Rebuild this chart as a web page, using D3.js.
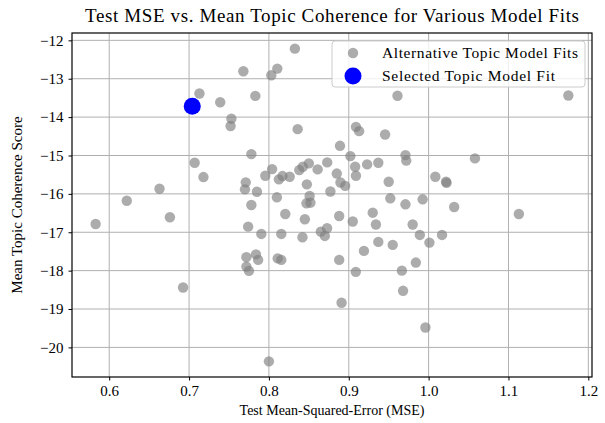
<!DOCTYPE html>
<html>
<head>
<meta charset="utf-8">
<script src="https://cdn.jsdelivr.net/npm/d3@7"></script>
<style>
    body { margin: 0; background: #fff; }
    svg text { font-family: 'Liberation Serif', 'Times New Roman', serif; fill: #000; }
</style>
</head>
<body>
<div class="chart"></div>
<script>
// alternative fits: test MSE and mean coherence
const altMse = [
    0.713, 0.739, 0.753, 0.752, 0.707, 0.718, 0.663, 0.622, 0.583, 0.676,
    0.6925, 0.768, 0.8325, 0.8105, 0.803, 0.783, 0.836, 0.909, 0.913, 0.9455,
    0.961, 1.175, 0.778, 0.804, 0.7955, 0.8125, 0.817, 0.826, 0.838, 0.8425,
    0.85, 0.861, 0.873, 0.8475, 0.771, 0.77, 0.785, 0.81, 0.851, 0.847,
    0.852, 0.778, 0.8205, 0.845, 0.877, 0.889, 0.902, 0.971, 0.972, 0.908,
    0.923, 0.937, 0.885, 0.909, 0.8896, 0.8955, 0.95, 0.952, 0.971, 0.9925,
    0.93, 0.888, 0.905, 0.934, 0.98, 0.774, 0.7905, 0.8155, 0.842, 0.865,
    0.8728, 0.87, 0.7718, 0.7838, 0.7865, 0.811, 0.8155, 0.7718, 0.775, 0.989,
    0.937, 0.955, 0.919, 0.888, 0.9088, 0.9665, 0.984, 0.968, 0.891, 0.8,
    1.058, 1.0084, 1.0218, 1.0225, 1.032, 1.113, 1.0168, 1.001, 0.996
];
const altCoherence = [
    -13.386, -13.612, -14.041, -14.231, -15.19, -15.562, -15.866, -16.178, -16.784, -16.61,
    -18.44, -12.806, -12.216, -12.736, -12.91, -13.448, -14.314, -14.254, -14.366, -14.452,
    -13.443, -13.438, -14.964, -15.354, -15.528, -15.622, -15.536, -15.554, -15.38, -15.294,
    -15.206, -15.362, -15.18, -15.752, -15.7, -15.882, -15.944, -16.09, -16.056, -16.246,
    -16.23, -16.29, -16.524, -16.662, -15.939, -14.748, -15.016, -14.99, -15.133, -15.294,
    -15.232, -15.19, -15.471, -15.528, -15.705, -15.791, -15.684, -16.116, -16.272, -16.142,
    -16.49, -16.576, -16.719, -16.797, -16.797, -16.854, -17.044, -17.044, -17.13, -16.984,
    -16.896, -17.096, -17.65, -17.577, -17.72, -17.681, -17.72, -17.895, -18.006, -17.07,
    -17.252, -17.33, -17.486, -17.72, -18.032, -18.001, -17.79, -18.526, -18.838, -20.364,
    -15.076, -15.554, -15.684, -15.713, -16.342, -16.524, -17.07, -17.27, -19.481
];

// the chosen fit
const selMse = [0.704];
const selCoherence = [-13.716];

const xTicks = [0.6, 0.7, 0.8, 0.9, 1.0, 1.1, 1.2];
const yTicks = [-12, -13, -14, -15, -16, -17, -18, -19, -20];

const legendLabels = ['Alternative Topic Model Fits', 'Selected Topic Model Fit'];

const svgWidth = 605;
const svgHeight = 423;
const margin = { top: 33, right: 13, bottom: 46, left: 72 };

const altData = altMse.map((d, i) => ({ mse: d, coh: altCoherence[i] }));
const selData = selMse.map((d, i) => ({ mse: d, coh: selCoherence[i] }));
const allData = altData.concat(selData);

// matplotlib style 5% padding
function padded(values) {
    const [lo, hi] = d3.extent(values);
    const pad = (hi - lo) * 0.05;
    return [lo - pad, hi + pad];
}

const xScale = d3
    .scaleLinear()
    .domain(padded(allData.map((d) => d.mse)))
    .range([margin.left, svgWidth - margin.right]);
const yScale = d3
    .scaleLinear()
    .domain(padded(allData.map((d) => d.coh)))
    .range([svgHeight - margin.bottom, margin.top]);

const svg = d3
    .select('.chart')
    .append('svg')
    .attr('width', svgWidth)
    .attr('height', svgHeight);

// grid lines
svg.append('g')
    .selectAll('line')
    .data(xTicks)
    .join('line')
    .attr('x1', (d) => xScale(d))
    .attr('x2', (d) => xScale(d))
    .attr('y1', margin.top)
    .attr('y2', svgHeight - margin.bottom)
    .attr('stroke', '#b0b0b0')
    .attr('stroke-width', 1);

svg.append('g')
    .selectAll('line')
    .data(yTicks)
    .join('line')
    .attr('x1', margin.left)
    .attr('x2', svgWidth - margin.right)
    .attr('y1', (d) => yScale(d))
    .attr('y2', (d) => yScale(d))
    .attr('stroke', '#b0b0b0')
    .attr('stroke-width', 1);

// points
svg.append('g')
    .selectAll('circle')
    .data(altData)
    .join('circle')
    .attr('cx', (d) => xScale(d.mse))
    .attr('cy', (d) => yScale(d.coh))
    .attr('r', 5.2)
    .attr('fill', '#808080')
    .attr('fill-opacity', 0.65);

svg.append('g')
    .selectAll('circle')
    .data(selData)
    .join('circle')
    .attr('cx', (d) => xScale(d.mse))
    .attr('cy', (d) => yScale(d.coh))
    .attr('r', 8.5)
    .attr('fill', '#0000ff');

// axes
const xAxis = svg
    .append('g')
    .attr('transform', `translate(0,${svgHeight - margin.bottom})`)
    .call(d3.axisBottom(xScale).tickValues(xTicks).tickFormat(d3.format('.1f')).tickSizeInner(3.5).tickSizeOuter(0).tickPadding(5));

const yAxis = svg
    .append('g')
    .attr('transform', `translate(${margin.left},0)`)
    .call(d3.axisLeft(yScale).tickValues(yTicks).tickFormat((d) => '\u2212' + Math.abs(d)).tickSizeInner(3.5).tickSizeOuter(0).tickPadding(5));

[xAxis, yAxis].forEach((ax) => {
    ax.select('.domain').remove();
    ax.selectAll('text').attr('font-size', '15px').attr('font-family', null);
    ax.selectAll('line').attr('stroke', '#000');
});

// frame
svg.append('rect')
    .attr('x', margin.left)
    .attr('y', margin.top)
    .attr('width', svgWidth - margin.left - margin.right)
    .attr('height', svgHeight - margin.top - margin.bottom)
    .attr('fill', 'none')
    .attr('stroke', '#000')
    .attr('stroke-width', 1.2);

// titles
const plotMid = (margin.left + svgWidth - margin.right) / 2;

svg.append('text')
    .text('Test MSE vs. Mean Topic Coherence for Various Model Fits')
    .attr('x', plotMid)
    .attr('y', 22)
    .attr('text-anchor', 'middle')
    .attr('font-size', '19px')
    .attr('textLength', 494);

svg.append('text')
    .text('Test Mean-Squared-Error (MSE)')
    .attr('x', plotMid)
    .attr('y', 415)
    .attr('text-anchor', 'middle')
    .attr('font-size', '14px');

svg.append('text')
    .text('Mean Topic Coherence Score')
    .attr('transform', `translate(22,${(margin.top + svgHeight - margin.bottom) / 2}) rotate(-90)`)
    .attr('text-anchor', 'middle')
    .attr('font-size', '15px');

// legend
const legend = svg.append('g').attr('transform', 'translate(332,41)');

legend
    .append('rect')
    .attr('width', 253)
    .attr('height', 46)
    .attr('rx', 3)
    .attr('fill', '#fff')
    .attr('fill-opacity', 0.8)
    .attr('stroke', '#cccccc');

const item = legend
    .selectAll('g.item')
    .data(legendLabels)
    .join('g')
    .attr('class', 'item')
    .attr('transform', (d, i) => `translate(0,${12 + i * 23})`);

item.append('circle')
    .attr('cx', 21)
    .attr('r', (d, i) => (i === 0 ? 5.2 : 8.5))
    .attr('fill', (d, i) => (i === 0 ? '#808080' : '#0000ff'))
    .attr('fill-opacity', (d, i) => (i === 0 ? 0.65 : 1));

item.append('text')
    .text((d) => d)
    .attr('x', 50)
    .attr('y', 5)
    .attr('font-size', '15.5px')
    .attr('textLength', (d, i) => (i === 0 ? 196 : 173));
</script>
</body>
</html>
